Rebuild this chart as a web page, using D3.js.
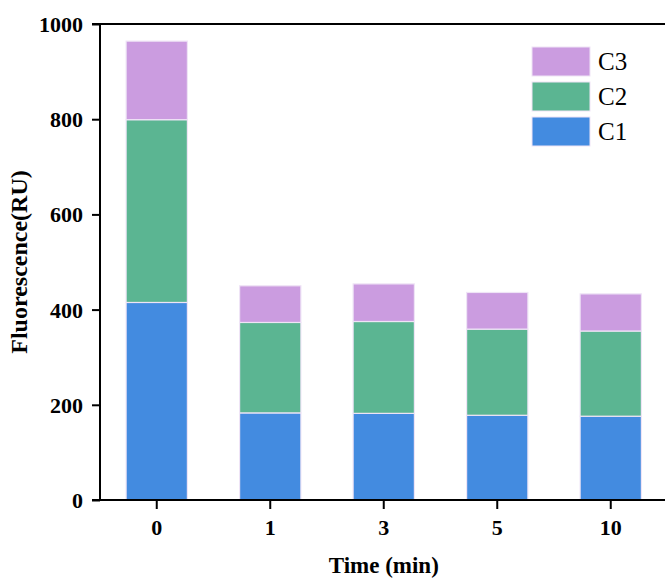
<!DOCTYPE html>
<html>
<head>
<meta charset="utf-8">
<script src="https://cdn.jsdelivr.net/npm/d3@7"></script>
<style>
  body { margin: 0; background: #fff; }
  svg { display: block; font-family: "Liberation Serif", "Times New Roman", serif; }
</style>
</head>
<body>
<svg></svg>
<script>
// data
const times = ["0", "1", "3", "5", "10"];
const c1 = [415, 183, 182, 178, 176];
const c2 = [384, 190, 193, 181, 179];
const c3 = [165, 77, 79, 77, 78];
const seriesNames = ["C1", "C2", "C3"];
const seriesColors = ["#438be0", "#5bb592", "#cb9ce0"];
const yTicks = [0, 200, 400, 600, 800, 1000];

let width = 665,
  height = 579;

let svg = d3.select("svg").attr("width", width).attr("height", height);

const plotLeft = 100, plotTop = 24, plotBottom = 500, plotRight = 667.5;

let x = d3.scaleBand().domain(times).range([plotLeft, plotRight]).paddingInner(0.46).paddingOuter(0.23);
let y = d3.scaleLinear().domain([0, 1000]).range([plotBottom, plotTop]);

const table = times.map((t, i) => ({ time: t, C1: c1[i], C2: c2[i], C3: c3[i] }));
const stacked = d3.stack().keys(seriesNames)(table);

// bars
svg.append("g")
  .selectAll("g")
  .data(stacked)
  .enter()
  .append("g")
  .attr("fill", (d, i) => seriesColors[i])
  .selectAll("rect")
  .data((d) => d)
  .enter()
  .append("rect")
  .attr("x", (d) => x(d.data.time))
  .attr("width", x.bandwidth())
  .attr("y", (d) => y(d[1]))
  .attr("height", (d) => y(d[0]) - y(d[1]))
  .attr("stroke", "#efe4f6")
  .attr("stroke-width", 1.2);

// top border
svg.append("line")
  .attr("x1", plotLeft).attr("x2", width)
  .attr("y1", plotTop).attr("y2", plotTop)
  .attr("stroke", "#000").attr("stroke-width", 2);

// y axis
let yAxis = svg.append("g")
  .attr("transform", `translate(${plotLeft},0)`)
  .call(d3.axisLeft(y).tickValues(yTicks).tickSize(8).tickPadding(9).tickFormat(d3.format("d")));
yAxis.select(".domain").attr("stroke-width", 2).attr("d", `M-8,${plotBottom}H0V${plotTop}H-8`);
yAxis.selectAll(".tick line").attr("stroke-width", 2);
yAxis.selectAll(".tick text")
  .attr("font-family", "Liberation Serif")
  .attr("font-size", 22).attr("font-weight", "bold").attr("fill", "#000").attr("dy", "0.34em");

// x axis
let xAxis = svg.append("g")
  .attr("transform", `translate(0,${plotBottom})`)
  .call(d3.axisBottom(x).tickSize(9).tickPadding(10).tickSizeOuter(0));
xAxis.select(".domain").attr("stroke-width", 2).attr("d", `M${plotLeft},0H${width}`);
xAxis.selectAll(".tick line").attr("stroke-width", 2);
xAxis.selectAll(".tick text")
  .attr("font-family", "Liberation Serif")
  .attr("font-size", 22).attr("font-weight", "bold").attr("fill", "#000");

// axis titles
svg.append("text")
  .attr("x", (plotLeft + plotRight) / 2).attr("y", 573)
  .attr("text-anchor", "middle")
  .attr("font-size", 23).attr("font-weight", "bold")
  .text("Time (min)");

svg.append("text")
  .attr("transform", `translate(27,${(plotTop + plotBottom) / 2}) rotate(-90)`)
  .attr("text-anchor", "middle")
  .attr("font-size", 24).attr("font-weight", "bold")
  .text("Fluorescence(RU)");

// legend (C3 on top)
const legendOrder = [2, 1, 0];
let legend = svg.append("g")
  .selectAll("g")
  .data(legendOrder)
  .enter()
  .append("g")
  .attr("transform", (d, i) => `translate(532,${47 + i * 35})`);
legend.append("rect")
  .attr("width", 58).attr("height", 29)
  .attr("fill", (d) => seriesColors[d])
  .attr("stroke", "#efe4f6").attr("stroke-width", 1);
legend.append("text")
  .attr("x", 66).attr("y", 23)
  .attr("font-size", 25)
  .text((d) => seriesNames[d]);
</script>
</body>
</html>
